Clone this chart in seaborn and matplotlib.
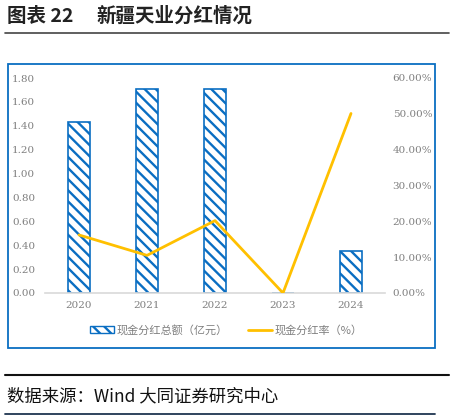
import matplotlib
matplotlib.use("Agg")
import matplotlib.pyplot as plt
import seaborn as sns
import pandas as pd
from matplotlib.patches import Rectangle, Patch
from matplotlib.lines import Line2D
from matplotlib.ticker import FuncFormatter

# data
years = ["2020", "2021", "2022", "2023", "2024"]
dividend_total = [1.43, 1.71, 1.71, 0.0, 0.35]   # 亿元
dividend_ratio = [16.2, 10.5, 20.2, 0.0, 50.1]   # %

sns.set_style("white")
plt.rcParams['font.family'] = ['Noto Sans CJK SC', 'DejaVu Sans']
plt.rcParams['hatch.linewidth'] = 1.7

BLUE = '#0A6EC2'
GOLD = '#FFC000'
GRAY = '#7F7F7F'
W, H = 454, 420

df = pd.DataFrame({'year': years, 'total': dividend_total, 'ratio': dividend_ratio})

fig = plt.figure(figsize=(W / 100, H / 100), dpi=100)


def fx(px):
    return px / W


def fy(py):
    return 1 - py / H


# title and decoration lines
fig.text(fx(7), fy(16), '图表 22', fontsize=14, fontweight='bold', va='center', color='#222222')
fig.text(fx(96), fy(16), '新疆天业分红情况', fontsize=14, fontweight='bold', va='center', color='#222222')
fig.add_artist(Line2D([fx(5), fx(449)], [fy(33), fy(33)], color='#444444', lw=1.2))
fig.add_artist(Rectangle((fx(7.5), fy(348)), fx(435) - fx(7.5), fy(63.5) - fy(348),
                         fill=False, edgecolor=BLUE, lw=1.3))
fig.add_artist(Line2D([fx(5), fx(449)], [fy(375), fy(375)], color='#111111', lw=1.5))
fig.text(fx(7), fy(396), '数据来源：Wind 大同证券研究中心', fontsize=12.5, va='center', color='#111111')
fig.add_artist(Line2D([fx(5), fx(435)], [fy(414), fy(414)], color='#1F3550', lw=1.3))

# main axes
ax = fig.add_axes([fx(45), fy(293), fx(385) - fx(45), fy(78) - fy(293)])
sns.barplot(data=df, x='year', y='total', ax=ax, color='white', width=0.33,
            edgecolor=BLUE, linewidth=1.2, saturation=1)
for p in ax.patches:
    p.set_hatch('\\\\\\')
    p.set_facecolor('white')
    p.set_edgecolor(BLUE)
ax.set_ylim(0, 1.8)
ax.set_xlim(-0.5, 4.5)
ax.set_yticks([0, 0.2, 0.4, 0.6, 0.8, 1.0, 1.2, 1.4, 1.6, 1.8])
ax.yaxis.set_major_formatter(FuncFormatter(lambda v, _: f'{v:.2f}'))
ax.set_xlabel('')
ax.set_ylabel('')
for s in ['top', 'right', 'left']:
    ax.spines[s].set_visible(False)
ax.spines['bottom'].set_color('#D9D9D9')
ax.spines['bottom'].set_linewidth(1.2)
ax.tick_params(axis='both', length=0, labelsize=7.5, labelcolor=GRAY)
ax.tick_params(axis='y', pad=7)
ax.tick_params(axis='x', pad=6)
for lab in ax.get_xticklabels() + ax.get_yticklabels():
    lab.set_family('DejaVu Serif')

# secondary axis for ratio
ax2 = ax.twinx()
sns.lineplot(x=list(range(len(years))), y=dividend_ratio, ax=ax2, color=GOLD, lw=2)
ax2.set_ylim(0, 60)
ax2.set_yticks([0, 10, 20, 30, 40, 50, 60])
ax2.yaxis.set_major_formatter(FuncFormatter(lambda v, _: f'{v:.2f}%'))
for s in ['top', 'right', 'left', 'bottom']:
    ax2.spines[s].set_visible(False)
ax2.tick_params(axis='y', length=0, labelsize=7.5, labelcolor=GRAY, pad=5.5)
for lab in ax2.get_yticklabels():
    lab.set_family('DejaVu Serif')

handles = [Patch(facecolor='white', edgecolor=BLUE, hatch='\\\\\\', label='现金分红总额（亿元）'),
           Line2D([0], [0], color=GOLD, lw=2, label='现金分红率（%）')]
fig.legend(handles=handles, loc='center', bbox_to_anchor=(fx(226), fy(330)), ncol=2,
           frameon=False, fontsize=8, labelcolor=GRAY, handlelength=2.2,
           handletextpad=0.2, columnspacing=1.8)

fig.savefig('out.png', dpi=100)
